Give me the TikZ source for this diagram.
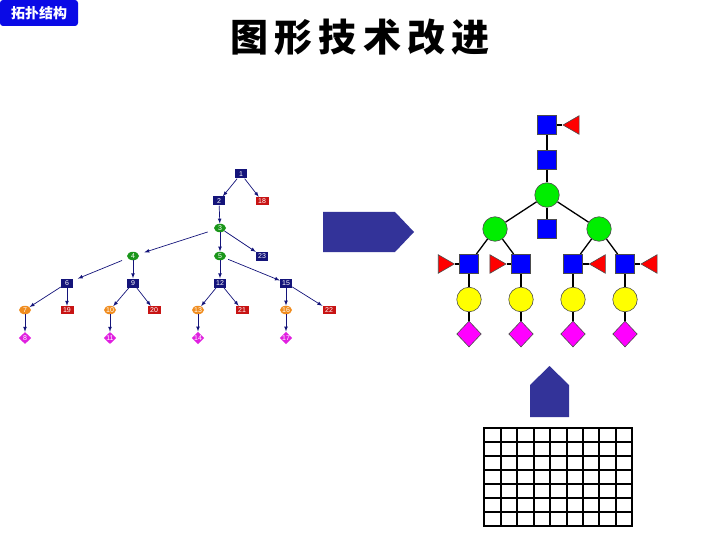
\documentclass[tikz,border=0pt]{standalone}
\usepackage{fontspec}
\setmainfont{Liberation Sans}
\newfontfamily\cjk{Noto Sans CJK SC}
\usetikzlibrary{shapes.geometric}
\definecolor{treeNavy}{HTML}{14147A}
\definecolor{treeGreen}{HTML}{1A961A}
\definecolor{treeOrange}{HTML}{F08C1E}
\definecolor{treeRed}{HTML}{C81414}
\definecolor{treeMagenta}{HTML}{E020E0}
\definecolor{arrowBlue}{HTML}{333399}
\definecolor{badgeBlue}{HTML}{0A0AE6}
\definecolor{gBlue}{HTML}{0000FF}
\definecolor{gGreen}{HTML}{00EE00}
\definecolor{gYellow}{HTML}{FFFF00}
\definecolor{gMagenta}{HTML}{FF00FF}
\definecolor{gRed}{HTML}{FF0000}
\begin{document}
\begin{tikzpicture}[x=1pt,y=-1pt,every node/.style={inner sep=0pt}]
\tikzstyle{arrow}=[draw,treeNavy,line width=0.7pt,-latex]
\tikzstyle{tnum}=[text=white,font=\fontsize{7}{7}\selectfont]
\tikzstyle{tsq}=[tnum,fill=treeNavy,minimum width=12pt,minimum height=9pt]
\tikzstyle{tred}=[tnum,fill=treeRed,minimum width=13pt,minimum height=8pt]
\tikzstyle{tgreen}=[tnum,ellipse,fill=treeGreen,minimum width=12pt,minimum height=8.5pt]
\tikzstyle{torange}=[tnum,ellipse,fill=treeOrange,minimum width=12pt,minimum height=8.5pt]
\tikzstyle{tdia}=[tnum,diamond,fill=treeMagenta,minimum width=12.5pt,minimum height=12pt]
\tikzstyle{link}=[draw,black,line width=1.3pt]
\tikzstyle{gbox}=[draw=black!70,line width=0.6pt,fill=gBlue,minimum size=19.5pt]
\tikzstyle{gtri}=[draw=black!70,line width=0.6pt,fill=gRed,regular polygon,regular polygon sides=3,minimum size=21.4pt]
\tikzstyle{gcirc}=[draw=black!70,line width=0.6pt,circle,minimum size=24.5pt]
\tikzstyle{gdia}=[draw=black!70,line width=0.6pt,diamond,fill=gMagenta,minimum width=24.5pt,minimum height=26pt]
\useasboundingbox (0,0) rectangle (720,540);

% badge and title
\node[fill=badgeBlue,rounded corners=3pt,minimum width=78pt,minimum height=26pt,text=white,font=\cjk\bfseries\fontsize{14}{14}\selectfont](badge) at (39,13){拓扑结构};
\node[font=\cjk\bfseries\fontsize{38}{38}\selectfont](title) at (360,37){\addfontfeature{LetterSpace=16}图形技术改进};

% topology tree
\node[tsq](n1) at (241,174){1};
\node[tsq](n2) at (219,201){2};
\node[tred](n18) at (262,201){18};
\node[tgreen](n3) at (220,228){3};
\node[tgreen](n4) at (133,256){4};
\node[tgreen](n5) at (220,256){5};
\node[tsq](n23) at (262,256){23};
\node[tsq](n6) at (67,283){6};
\node[tsq](n9) at (133,283){9};
\node[tsq](n12) at (220,283){12};
\node[tsq](n15) at (286,283){15};
\node[torange](n7) at (25,310){7};
\node[tred](n19) at (67,310){19};
\node[torange](n10) at (110,310){10};
\node[tred](n20) at (154,310){20};
\node[torange](n13) at (198,310){13};
\node[tred](n21) at (242,310){21};
\node[torange](n16) at (286,310){16};
\node[tred](n22) at (329,310){22};
\node[tdia](n8) at (25,338){8};
\node[tdia](n11) at (110,338){11};
\node[tdia](n14) at (198,338){14};
\node[tdia](n17) at (286,338){17};

\path[arrow](n1)--(n2);
\path[arrow](n1)--(n18);
\path[arrow](n2)--(n3);
\path[arrow,shorten <=7pt,shorten >=6pt](n3)--(n4);
\path[arrow](n3)--(n5);
\path[arrow](n3)--(n23);
\path[arrow,shorten <=6pt,shorten >=5pt](n4)--(n6);
\path[arrow](n4)--(n9);
\path[arrow](n5)--(n12);
\path[arrow,shorten <=3pt](n5)--(n15);
\path[arrow](n6)--(n7);
\path[arrow](n6)--(n19);
\path[arrow](n9)--(n10);
\path[arrow](n9)--(n20);
\path[arrow](n12)--(n13);
\path[arrow](n12)--(n21);
\path[arrow](n15)--(n16);
\path[arrow](n15)--(n22);
\path[arrow](n7)--(n8);
\path[arrow](n10)--(n11);
\path[arrow](n13)--(n14);
\path[arrow](n16)--(n17);

% arrows between the panels
\fill[arrowBlue](323,212)--(395,212)--(414,232)--(395,252)--(323,252)--cycle;
\fill[arrowBlue](530,417)--(530,385)--(549.5,366)--(569,385)--(569,417)--cycle;

% glycan structure
\node[gbox](gSqTop) at (547,125){};
\node[gtri,rotate=90](gTriTop) at (573.7,125){};
\node[gbox](gSq2) at (547,160){};
\node[gcirc,fill=gGreen](gCore) at (547,195){};
\node[gcirc,fill=gGreen](gManL) at (495,229){};
\node[gbox](gSqMid) at (547,229){};
\node[gcirc,fill=gGreen](gManR) at (599,229){};
\foreach \name/\x/\tx/\rot in {A/469/443.6/-90,B/521/495.3/-90,C/573/600/90,D/625/651.7/90}{
  \node[gbox](gSq\name) at (\x,264){};
  \node[gtri,rotate=\rot](gTri\name) at (\tx,264){};
  \node[gcirc,fill=gYellow](gGal\name) at (\x,299.5){};
  \node[gdia](gDia\name) at (\x,334){};
}
\path[link](gSqTop)--(gTriTop);
\path[link](gSqTop)--(gSq2);
\path[link](gSq2)--(gCore);
\path[link](gCore)--(gManL);
\path[link](gCore)--(gManR);
\path[link](gCore)--(gSqMid);
\path[link](gManL)--(gSqA);
\path[link](gManL)--(gSqB);
\path[link](gManR)--(gSqC);
\path[link](gManR)--(gSqD);
\foreach \name in {A,B,C,D}{
  \path[link](gSq\name)--(gTri\name);
  \path[link](gSq\name)--(gGal\name);
  \path[link](gGal\name)--(gDia\name);
}

% grid
\foreach \i in {0,...,9}
  \draw[line width=2pt,line cap=rect]({484.3+\i*16.44},428.3)--++(0,97.4);
\foreach \j in {0,...,7}
  \draw[line width=2pt,line cap=rect](484.3,{428.3+\j*13.91})--++(148,0);
\end{tikzpicture}
\end{document}
